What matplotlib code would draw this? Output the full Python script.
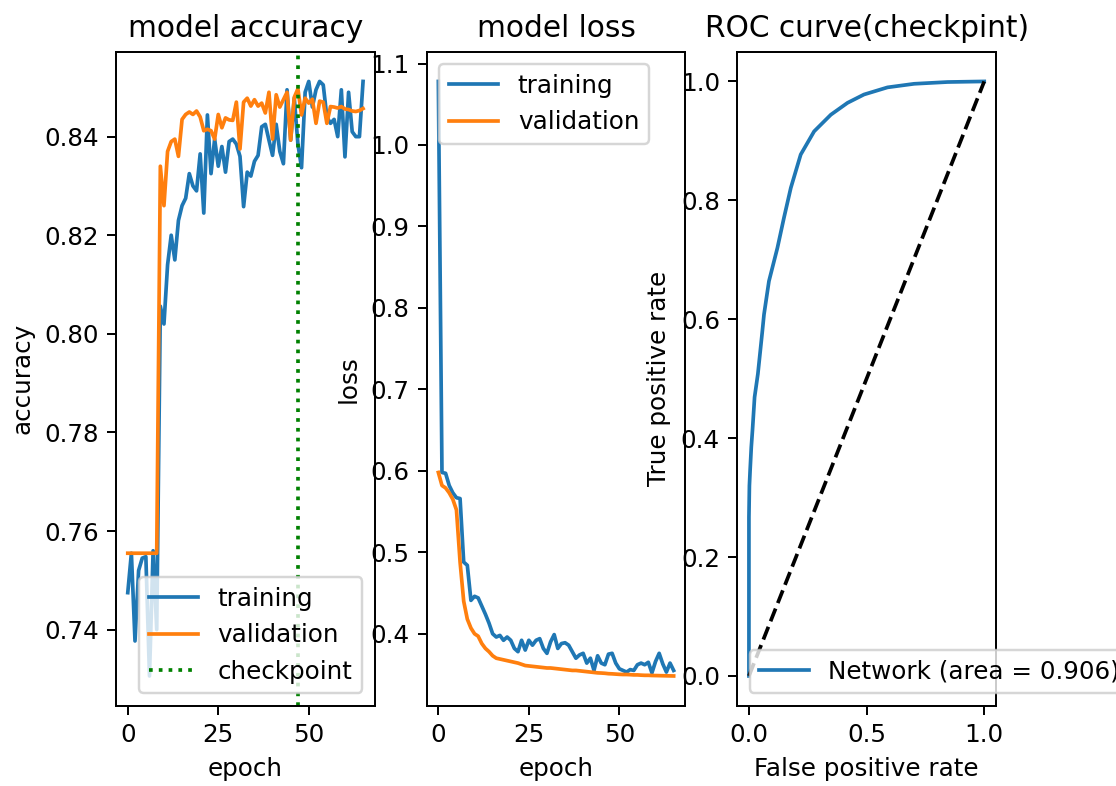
import matplotlib
matplotlib.use('Agg')
import matplotlib.pyplot as plt
import numpy as np

DPI = 177.5
CHECKPOINT = 47

# accuracy per epoch (66 epochs)
acc_train = [0.7475, 0.7555, 0.7377, 0.7520, 0.7545, 0.7548, 0.7306, 0.7560, 0.7400,
             0.8056, 0.8020, 0.8140, 0.8200, 0.8150, 0.8230, 0.8260, 0.8275, 0.8325,
             0.8300, 0.8290, 0.8365, 0.8245, 0.8444, 0.8325, 0.8395, 0.8340, 0.8380,
             0.8328, 0.8390, 0.8395, 0.8385, 0.8360, 0.8258, 0.8328, 0.8320, 0.8350,
             0.8362, 0.8420, 0.8425, 0.8393, 0.8362, 0.8425, 0.8370, 0.8345, 0.8495,
             0.8393, 0.8478, 0.8385, 0.8337, 0.8490, 0.8512, 0.8460, 0.8495, 0.8512,
             0.8505, 0.8440, 0.8427, 0.8435, 0.8400, 0.8495, 0.8359, 0.8490, 0.8410,
             0.8400, 0.8400, 0.8512]
acc_val = [0.7555] * 9 + [
    0.8340, 0.8260, 0.8370, 0.8390, 0.8395, 0.8360, 0.8435, 0.8445, 0.8450,
    0.8445, 0.8452, 0.8440, 0.8412, 0.8415, 0.8412, 0.8395, 0.8445, 0.8418,
    0.8438, 0.8434, 0.8433, 0.8470, 0.8375, 0.8470, 0.8478, 0.8462, 0.8475,
    0.8462, 0.8468, 0.8448, 0.8490, 0.8395, 0.8485, 0.8460, 0.8475, 0.8490,
    0.8393, 0.8480, 0.8497, 0.8444, 0.8478, 0.8468, 0.8476, 0.8427, 0.8472,
    0.8470, 0.8427, 0.8461, 0.8460, 0.8458, 0.8461, 0.8456, 0.8455, 0.8452,
    0.8451, 0.8453, 0.8457]

# loss per epoch
loss_train = [1.078, 0.598, 0.597, 0.582, 0.573, 0.567, 0.566, 0.488, 0.484, 0.441,
              0.446, 0.444, 0.434, 0.424, 0.413, 0.400, 0.396, 0.398, 0.392, 0.396,
              0.392, 0.382, 0.378, 0.392, 0.380, 0.392, 0.386, 0.392, 0.394, 0.382,
              0.376, 0.390, 0.399, 0.382, 0.388, 0.389, 0.386, 0.378, 0.370, 0.374,
              0.376, 0.364, 0.370, 0.355, 0.373, 0.364, 0.362, 0.375, 0.376, 0.364,
              0.357, 0.355, 0.353, 0.356, 0.355, 0.362, 0.364, 0.362, 0.365, 0.352,
              0.366, 0.376, 0.363, 0.353, 0.364, 0.355]
loss_val = [0.598, 0.582, 0.579, 0.573, 0.565, 0.552, 0.488, 0.440, 0.418, 0.407,
            0.400, 0.397, 0.388, 0.382, 0.378, 0.373, 0.370, 0.369, 0.368, 0.367,
            0.366, 0.365, 0.364, 0.3625, 0.361, 0.3605, 0.360, 0.3595, 0.359, 0.3585,
            0.358, 0.358, 0.3575, 0.357, 0.3565, 0.356, 0.3555, 0.355, 0.355, 0.3545,
            0.354, 0.3535, 0.353, 0.3525, 0.352, 0.3518, 0.3515, 0.351, 0.3508, 0.3505,
            0.3502, 0.350, 0.350, 0.3498, 0.3495, 0.3495, 0.3492, 0.349, 0.349, 0.3488,
            0.3487, 0.3486, 0.3485, 0.3484, 0.3483, 0.3482]

# ROC curve at checkpoint
fpr = [0, 0, 0.002, 0.005, 0.010, 0.015, 0.024, 0.038, 0.057, 0.064, 0.085, 0.121,
       0.149, 0.178, 0.22, 0.277, 0.348, 0.419, 0.489, 0.589, 0.702, 0.844, 1.0]
tpr = [0, 0.267, 0.32, 0.346, 0.385, 0.413, 0.469, 0.508, 0.58, 0.608, 0.664, 0.720,
       0.771, 0.821, 0.877, 0.916, 0.944, 0.964, 0.978, 0.990, 0.996, 0.999, 1.0]
roc_auc = 0.906

f, (ax1, ax2, ax3) = plt.subplots(1, 3, figsize=(1116 / DPI, 786 / DPI), dpi=DPI)
f.subplots_adjust(left=116 / 1116, right=996 / 1116,
                  bottom=(786 - 705.7) / 786, top=(786 - 51.7) / 786, wspace=0.2)

ax1.plot(acc_train, label='training')
ax1.plot(acc_val, label='validation')
ax1.axvline(CHECKPOINT, color='g', linestyle=':', label='checkpoint')
ax1.set_title('model accuracy')
ax1.set_ylabel('accuracy')
ax1.set_xlabel('epoch')
ax1.legend(loc='lower right')

ax2.plot(loss_train, label='training')
ax2.plot(loss_val, label='validation')
ax2.set_title('model loss')
ax2.set_ylabel('loss')
ax2.set_xlabel('epoch')
ax2.legend(loc='upper left')

ax3.plot(fpr, tpr, label='Network (area = {:.3f})'.format(roc_auc))
ax3.plot([0, 1], [0, 1], 'k--')
ax3.set_title('ROC curve(checkpint)')
ax3.set_xlabel('False positive rate')
ax3.set_ylabel('True positive rate')
ax3.legend(loc='lower left')

f.savefig('out.png', dpi=DPI)
